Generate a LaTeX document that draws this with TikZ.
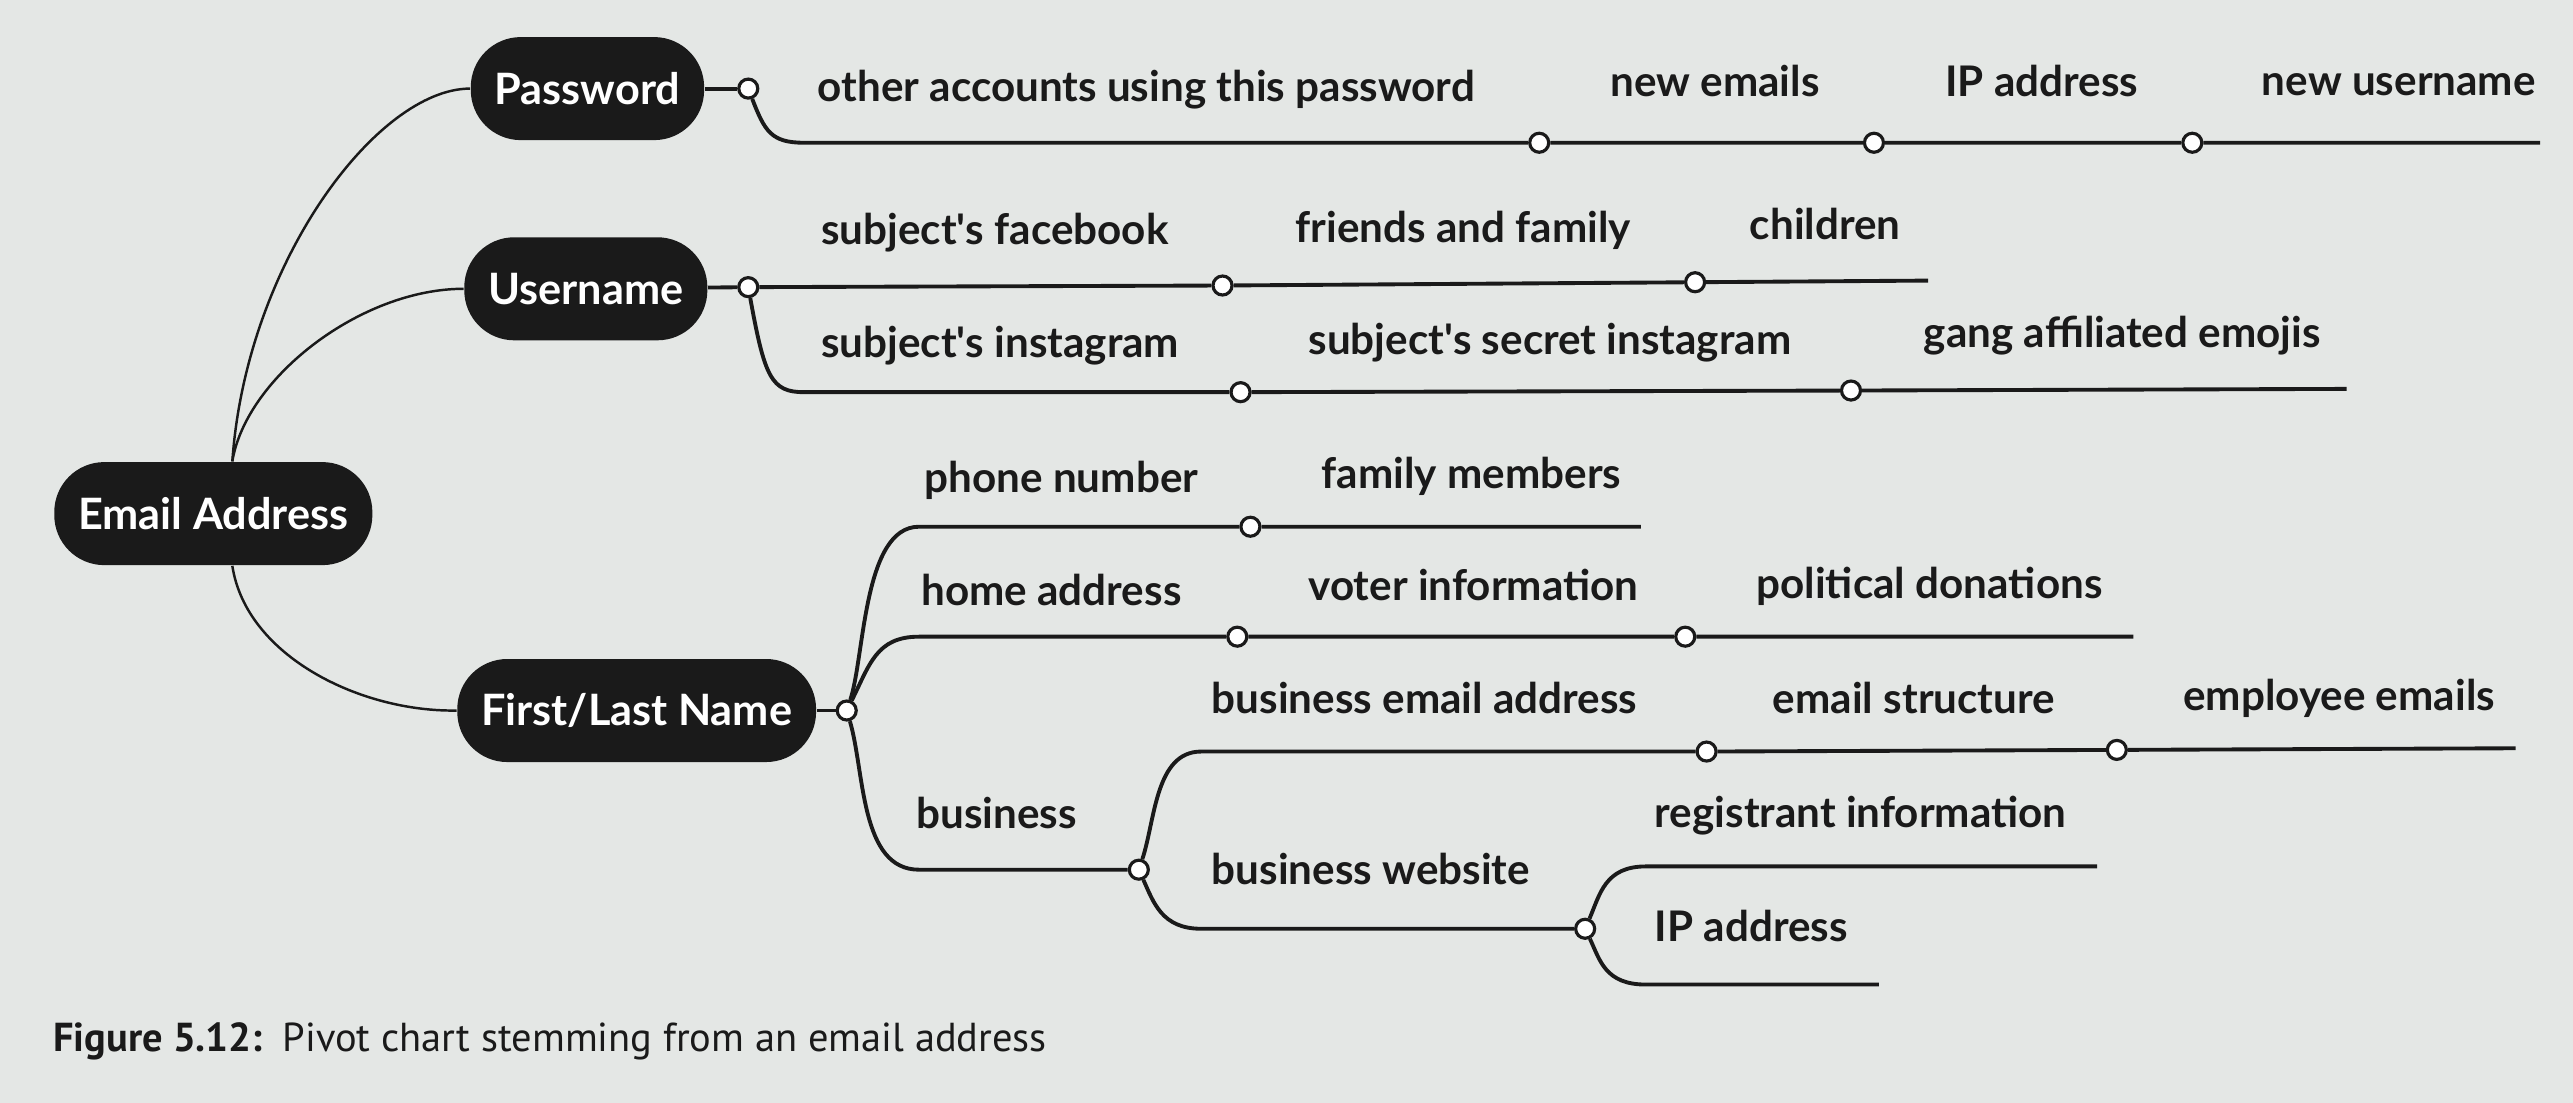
\documentclass[tikz,border=0pt]{standalone}
\usepackage{fontspec}
\setmainfont{Lato}
\newfontfamily\capfont{PT Sans}
\definecolor{paper}{RGB}{228,231,229}
\definecolor{ink}{RGB}{26,26,26}

\begin{document}
\begin{tikzpicture}[x=0.01641cm, y=-0.01641cm,
    pill/.style={fill=ink, text=white, rounded corners=0.5cm, minimum height=1.03cm,
      inner xsep=0.24cm, font=\bfseries\fontsize{12.3}{14}\selectfont},
    knot/.style={circle, draw=ink, fill=white, line width=0.9pt, inner sep=0pt, minimum size=0.19cm},
    branch/.style={draw=ink, line width=1.1pt},
    stem/.style={draw=ink, line width=0.7pt},
    lbl/.style={anchor=base west, inner sep=0pt, text=ink, font=\bfseries\fontsize{12}{14}\selectfont}]

    % Page
    \fill[paper] (0,0) rectangle (1568,672);

    % Main nodes
    \node[pill] (email) at (130,313) {Email Address};
    \node[pill] (pass) at (358,54) {Password};
    \node[pill] (user) at (357,176) {Username};
    \node[pill] (name) at (388,433) {First/Last Name};

    \draw[stem] (email.70) .. controls (150,160) and (230,54) .. (pass.west);
    \draw[stem] (email.70) .. controls (150,230) and (220,176) .. (user.west);
    \draw[stem] (email.-70) .. controls (150,400) and (220,434) .. (name.west);

    % Password branch
    \node[knot] (passk) at (456,54) {};
    \draw[branch] (pass) -- (passk);
    \coordinate (passbend) at (490,87);
    \node[knot] (newmail) at (938,87) {};
    \node[knot] (ipone) at (1142,87) {};
    \node[knot] (newuser) at (1336,87) {};
    \coordinate (passend) at (1548,87);
    \draw[branch] (passk) .. controls (466,80) and (470,87) .. (passbend) -- (newmail)
        -- (ipone) -- (newuser) -- (passend);
    \node[lbl] (others) at (498,62) {other accounts using this password};
    \node[lbl] (newmails) at (981,59) {new emails};
    \node[lbl] (ipaddr) at (1185,59) {IP address};
    \node[lbl] (newname) at (1378,58) {new username};

    % Username branch
    \node[knot] (userk) at (456,175) {};
    \draw[branch] (user) -- (userk);
    \node[knot] (facebook) at (745,174) {};
    \node[knot] (friends) at (1033,172) {};
    \coordinate (userend) at (1175,171);
    \draw[branch] (userk) -- (facebook) -- (friends) -- (userend);
    \coordinate (userbend) at (490,239);
    \node[knot] (insta) at (756,239) {};
    \node[knot] (secret) at (1128,238) {};
    \coordinate (instaend) at (1430,237);
    \draw[branch] (userk) .. controls (466,230) and (470,239) .. (userbend) -- (insta)
        -- (secret) -- (instaend);
    \node[lbl] (fbook) at (500,149) {subject\textquotesingle s facebook};
    \node[lbl] (family) at (789,148) {friends and family};
    \node[lbl] (kids) at (1066,146) {children};
    \node[lbl] (igram) at (500,218) {subject\textquotesingle s instagram};
    \node[lbl] (secretig) at (797,216) {subject\textquotesingle s secret instagram};
    \node[lbl] (emojis) at (1172,212) {gang affiliated emojis};

    % First/Last Name branch
    \node[knot] (namek) at (516,433) {};
    \draw[branch] (name) -- (namek);
    \coordinate (phonebend) at (560,321);
    \node[knot] (members) at (762,321) {};
    \coordinate (phoneend) at (1000,321);
    \draw[branch] (namek) .. controls (527,400) and (526,321) .. (phonebend) -- (members) -- (phoneend);
    \coordinate (homebend) at (560,388);
    \node[knot] (voter) at (754,388) {};
    \node[knot] (donate) at (1027,388) {};
    \coordinate (homeend) at (1300,388);
    \draw[branch] (namek) .. controls (530,405) and (534,388) .. (homebend) -- (voter)
        -- (donate) -- (homeend);
    \coordinate (bizbend) at (560,530);
    \node[knot] (bizk) at (694,530) {};
    \draw[branch] (namek) .. controls (527,470) and (524,530) .. (bizbend) -- (bizk);
    \node[lbl] (phone) at (563,300) {phone number};
    \node[lbl] (relatives) at (805,298) {family members};
    \node[lbl] (home) at (561,369) {home address};
    \node[lbl] (voterinfo) at (797,366) {voter information};
    \node[lbl] (donations) at (1070,365) {political donations};
    \node[lbl] (biz) at (558,505) {business};

    % Business branch
    \coordinate (mailbend) at (732,458);
    \node[knot] (structure) at (1040,458) {};
    \node[knot] (staff) at (1290,457) {};
    \coordinate (mailend) at (1533,456);
    \draw[branch] (bizk) .. controls (704,500) and (704,458) .. (mailbend) -- (structure)
        -- (staff) -- (mailend);
    \coordinate (webbend) at (732,566);
    \node[knot] (webk) at (966,566) {};
    \draw[branch] (bizk) .. controls (703,550) and (708,566) .. (webbend) -- (webk);
    \coordinate (regbend) at (1003,528);
    \coordinate (regend) at (1278,528);
    \draw[branch] (webk) .. controls (975,545) and (978,528) .. (regbend) -- (regend);
    \coordinate (ipbend) at (1003,600);
    \coordinate (ipend) at (1145,600);
    \draw[branch] (webk) .. controls (975,585) and (978,600) .. (ipbend) -- (ipend);
    \node[lbl] (bizmail) at (738,435) {business email address};
    \node[lbl] (mailform) at (1080,435) {email structure};
    \node[lbl] (empmails) at (1330,433) {employee emails};
    \node[lbl] (website) at (738,539) {business website};
    \node[lbl] (registrant) at (1008,504) {registrant information};
    \node[lbl] (ipweb) at (1008,574) {IP address};

    % Caption
    \node[anchor=base west, inner sep=0pt, text=ink, font=\capfont\fontsize{11.5}{13}\selectfont] (caption)
        at (32,641) {\textbf{Figure 5.12:}\enspace Pivot chart stemming from an email address};
\end{tikzpicture}
\end{document}
